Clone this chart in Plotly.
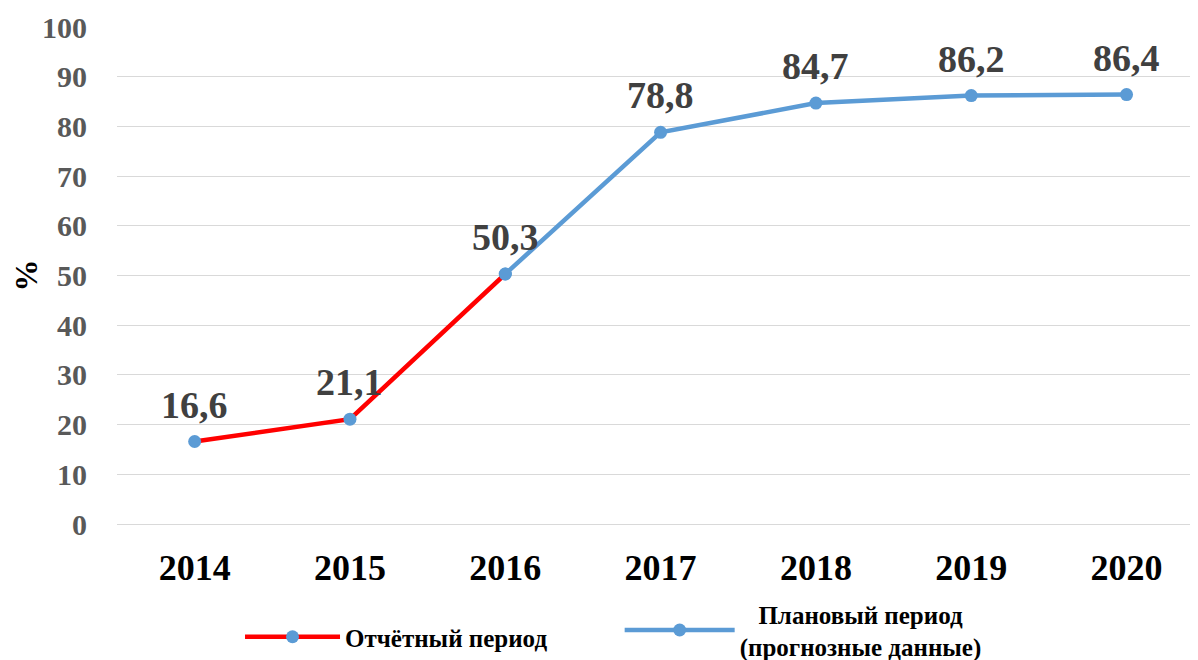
import plotly.graph_objects as go

years = ["2014", "2015", "2016", "2017", "2018", "2019", "2020"]
values = [16.6, 21.1, 50.3, 78.8, 84.7, 86.2, 86.4]
labels = ["16,6", "21,1", "50,3", "78,8", "84,7", "86,2", "86,4"]
report_years = years[:3]
report_values = values[:3]
plan_years = years[2:]
plan_values = values[2:]
y_ticks = list(range(0, 101, 10))

RED = "#ff0000"
BLUE = "#5b9bd5"
FONT = "Liberation Serif"

# the page body has an 8px default margin, so the figure is sized to fit
W, H = 1190, 652

fig = go.Figure()
fig.add_trace(go.Scatter(
    x=report_years, y=report_values, mode="lines+markers",
    name="Отчётный период",
    line=dict(color=RED, width=4.5),
    marker=dict(color=BLUE, size=13),
    legend="legend",
))
fig.add_trace(go.Scatter(
    x=plan_years, y=plan_values, mode="lines+markers",
    name="&nbsp;&nbsp;&nbsp;Плановый период<br>(прогнозные данные)",
    line=dict(color=BLUE, width=4.5),
    marker=dict(color=BLUE, size=13),
    legend="legend2",
))

for i, (v, t) in enumerate(zip(values, labels)):
    fig.add_annotation(
        x=i, y=v, text=t, showarrow=False,
        yshift=37, font=dict(family=FONT, size=38, color="#404040", weight="bold"),
    )

legend_font = dict(family=FONT, size=25, color="black", weight="bold")
fig.update_layout(
    width=W, height=H,
    margin=dict(l=109, r=0, t=19, b=136),
    paper_bgcolor="white", plot_bgcolor="white",
    font=dict(family=FONT),
    showlegend=True,
    legend=dict(
        x=0.1138, xanchor="left", yref="container", y=1 - 629 / H, yanchor="middle",
        font=legend_font, itemwidth=95, bgcolor="rgba(0,0,0,0)",
    ),
    legend2=dict(
        x=0.465, xanchor="left", yref="container", y=1 - 622 / H, yanchor="middle",
        font=legend_font, itemwidth=110, bgcolor="rgba(0,0,0,0)",
    ),
)
fig.update_xaxes(
    type="category", range=[-0.5, 6.46], automargin=False,
    showgrid=False, showline=False, zeroline=False,
    tickfont=dict(family=FONT, size=36, color="black", weight="bold"),
    ticklabelstandoff=19,
)
fig.update_yaxes(
    range=[0, 100], tickvals=y_ticks, automargin=False,
    showgrid=True, gridcolor="#d9d9d9", gridwidth=1,
    zeroline=True, zerolinecolor="#d9d9d9", zerolinewidth=1,
    showline=False,
    tickfont=dict(family=FONT, size=30, color="#595959", weight="bold"),
    ticklabelstandoff=29,
    title=dict(text="%", font=dict(family=FONT, size=32, color="black", weight="bold"), standoff=2),
)

fig.write_html("out.html")
